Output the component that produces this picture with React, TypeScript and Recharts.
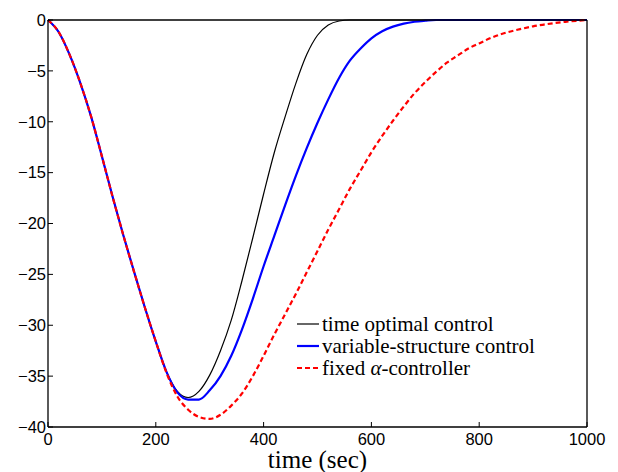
import * as React from 'react';
import { LineChart, Line, XAxis, YAxis, Legend } from 'recharts';

// time axis (sec), sampled every 20 s
const timeSec = [
  0, 20, 40, 60, 80, 100, 120, 140, 160, 180, 200, 220, 240, 260, 280, 300, 320, 340, 360, 380,
  400, 420, 440, 460, 480, 500, 520, 540, 560, 580, 600, 620, 640, 660, 680, 700, 720, 740, 760, 780,
  800, 820, 840, 860, 880, 900, 920, 940, 960, 980, 1000,
];

const timeOptimal = [
  0, -1.2, -3.4, -6.2, -9.5, -13.4, -17.4, -21.2, -24.8, -28.3, -31.6, -34.6, -36.5, -37.1, -36.5, -34.9, -32.5, -29.5, -25.6, -21.4,
  -17.1, -13.0, -9.5, -6.2, -3.4, -1.5, -0.5, -0.1, 0, 0, 0, 0, 0, 0, 0, 0, 0, 0, 0, 0,
  0, 0, 0, 0, 0, 0, 0, 0, 0, 0, 0,
];

const variableStructure = [
  0, -1.2, -3.4, -6.2, -9.5, -13.4, -17.4, -21.2, -24.8, -28.3, -31.6, -34.6, -36.6, -37.3, -37.3, -36.4, -35.0, -33.0, -30.4, -27.4,
  -24.2, -21.2, -18.2, -15.3, -12.6, -10.1, -7.8, -5.7, -4.0, -2.8, -1.8, -1.1, -0.65, -0.35, -0.17, -0.07, 0, 0, 0, 0,
  0, 0, 0, 0, 0, 0, 0, 0, 0, 0, 0,
];

const fixedAlpha = [
  0, -1.2, -3.4, -6.2, -9.5, -13.4, -17.4, -21.2, -24.8, -28.3, -31.6, -34.7, -37.0, -38.3, -39.0, -39.2, -38.8, -37.9, -36.7, -35.0,
  -33.0, -30.9, -28.9, -26.9, -24.8, -22.7, -20.6, -18.6, -16.6, -14.8, -13.0, -11.4, -9.9, -8.5, -7.2, -6.1, -5.1, -4.2, -3.5, -2.8,
  -2.3, -1.8, -1.4, -1.1, -0.85, -0.62, -0.45, -0.3, -0.18, -0.08, 0,
];

const xTicks = [0, 200, 400, 600, 800, 1000];
const yTicks = [0, -5, -10, -15, -20, -25, -30, -35, -40];

const seriesNames = ['time optimal control', 'variable-structure control', 'fixed α-controller'];

const data = timeSec.map((t, i) => ({
  t,
  opt: timeOptimal[i],
  vs: variableStructure[i],
  fa: fixedAlpha[i],
}));

const tickFont = { fontFamily: '"Liberation Sans", Arial, sans-serif', fontSize: 16.5, fill: '#000' };
const serif = '"Liberation Serif", "Times New Roman", serif';

const fmt = (v: number) => String(v).replace('-', '\u2212');

function ChartLegend() {
  const rows = [
    { color: '#000000', width: 1.2, dash: undefined },
    { color: '#0000ff', width: 2.2, dash: undefined },
    { color: '#ff0000', width: 2.2, dash: '5 3' },
  ];
  return (
    <div style={{ fontFamily: serif, fontSize: 21, color: '#000', lineHeight: '22px' }}>
      {rows.map((r, i) => (
        <div key={i} style={{ display: 'flex', alignItems: 'center', height: 22, whiteSpace: 'nowrap' }}>
          <svg width={25} height={22} style={{ display: 'block' }}>
            <line x1={0} x2={22} y1={11} y2={11} stroke={r.color} strokeWidth={r.width} strokeDasharray={r.dash} />
          </svg>
          {i === 2 ? (
            <span>
              fixed <i>α</i>-controller
            </span>
          ) : (
            <span>{seriesNames[i]}</span>
          )}
        </div>
      ))}
    </div>
  );
}

export default function App() {
  return (
    <div style={{ position: 'absolute', left: 0, top: 0, width: 618, height: 472, background: '#fff' }}>
      <LineChart width={618} height={472} data={data} margin={{ top: 19, right: 30, bottom: 0, left: 0 }}>
        <XAxis
          dataKey="t"
          type="number"
          domain={[0, 1000]}
          ticks={xTicks}
          height={45}
          tickSize={-5}
          tickMargin={11}
          tick={tickFont}
          axisLine={{ stroke: '#000', strokeWidth: 1.3 }}
          tickLine={{ stroke: '#000' }}
          label={{
            value: 'time (sec)',
            position: 'insideBottom',
            offset: 4,
            style: { fontFamily: serif, fontSize: 25, fill: '#000', textAnchor: 'middle' },
          }}
        />
        <XAxis
          xAxisId="top"
          orientation="top"
          dataKey="t"
          type="number"
          domain={[0, 1000]}
          ticks={xTicks}
          height={1}
          tickSize={-5}
          tick={false}
          axisLine={{ stroke: '#000', strokeWidth: 1.3 }}
          tickLine={{ stroke: '#000' }}
        />
        <YAxis
          type="number"
          domain={[-40, 0]}
          ticks={yTicks}
          width={48}
          tickSize={-5}
          tickMargin={7}
          tick={tickFont}
          tickFormatter={fmt}
          axisLine={{ stroke: '#000', strokeWidth: 1.3 }}
          tickLine={{ stroke: '#000' }}
        />
        <YAxis
          yAxisId="right"
          orientation="right"
          type="number"
          domain={[-40, 0]}
          ticks={yTicks}
          width={1}
          tickSize={-5}
          tick={false}
          axisLine={{ stroke: '#000', strokeWidth: 1.3 }}
          tickLine={{ stroke: '#000' }}
        />
        <Legend
          layout="horizontal"
          verticalAlign="middle"
          align="center"
          content={<ChartLegend />}
          wrapperStyle={{ position: 'absolute', left: 297, top: 313, width: 'auto', height: 'auto' }}
        />
        <Line
          dataKey="opt"
          name={seriesNames[0]}
          type="monotone"
          stroke="#000000"
          strokeWidth={1.2}
          dot={false}
          isAnimationActive={false}
        />
        <Line
          dataKey="vs"
          name={seriesNames[1]}
          type="monotone"
          stroke="#0000ff"
          strokeWidth={2.2}
          dot={false}
          isAnimationActive={false}
        />
        <Line
          dataKey="fa"
          name={seriesNames[2]}
          type="monotone"
          stroke="#ff0000"
          strokeWidth={2.2}
          strokeDasharray="5 3"
          dot={false}
          isAnimationActive={false}
        />
      </LineChart>
    </div>
  );
}
